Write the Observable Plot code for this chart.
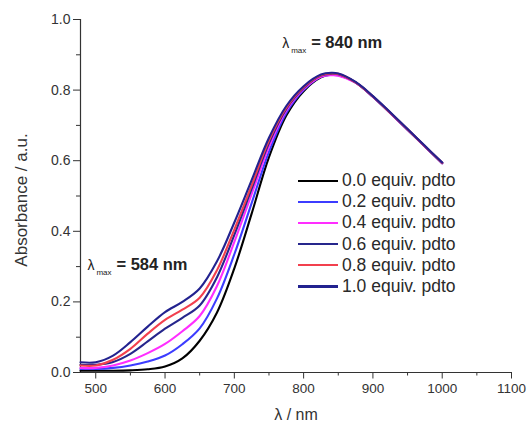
<!DOCTYPE html>
<html>
<head>
<meta charset="utf-8">
<script src="https://cdn.jsdelivr.net/npm/d3@7"></script>
<script src="https://cdn.jsdelivr.net/npm/@observablehq/plot@0.6"></script>
<style>
  html, body { margin: 0; padding: 0; background: #fff; }
  #wrap { position: relative; width: 527px; height: 425px; font-family: "Liberation Sans", Arial, sans-serif; }
  #legend { position: absolute; left: 298px; top: 170px; }
  .row { display: flex; align-items: center; height: 21.2px; font-size: 17.5px; color: #2a2a2a; }
  .sw { width: 40px; height: 2.2px; margin-right: 4px; }
  #ylab { position: absolute; left: 22px; top: 200px; transform: translate(-50%, -50%) rotate(-90deg); white-space: nowrap; font-size: 17px; color: #333; }
</style>
</head>
<body>
<div id="wrap"></div>
<script>
// wavelengths (nm)
const wavelengths = [478, 500, 525, 550, 575, 600, 625, 650, 675, 700, 725, 750, 775, 800, 825, 840, 850, 875, 900, 925, 950, 975, 1000];
// absorbance per titration step
const eq00 = [0.005,0.005,0.005,0.006,0.009,0.017,0.040,0.090,0.170,0.295,0.450,0.610,0.728,0.797,0.836,0.844,0.843,0.822,0.781,0.735,0.688,0.640,0.593];
const eq02 = [0.010,0.010,0.013,0.020,0.031,0.048,0.080,0.125,0.210,0.335,0.480,0.625,0.735,0.800,0.838,0.843,0.842,0.821,0.781,0.735,0.688,0.640,0.593];
const eq04 = [0.013,0.013,0.020,0.034,0.055,0.081,0.117,0.160,0.245,0.370,0.505,0.640,0.742,0.803,0.838,0.842,0.841,0.821,0.781,0.735,0.688,0.640,0.593];
const eq06 = [0.022,0.022,0.030,0.053,0.088,0.124,0.155,0.190,0.270,0.390,0.520,0.650,0.747,0.806,0.841,0.846,0.845,0.822,0.782,0.736,0.689,0.641,0.594];
const eq08 = [0.020,0.020,0.036,0.067,0.110,0.149,0.178,0.212,0.290,0.405,0.530,0.657,0.750,0.808,0.842,0.847,0.846,0.822,0.782,0.736,0.689,0.641,0.594];
const eq10 = [0.029,0.029,0.048,0.086,0.130,0.171,0.200,0.238,0.315,0.425,0.545,0.665,0.755,0.811,0.844,0.849,0.847,0.823,0.783,0.737,0.690,0.642,0.595];

const seriesNames = ["0.0 equiv. pdto","0.2 equiv. pdto","0.4 equiv. pdto","0.6 equiv. pdto","0.8 equiv. pdto","1.0 equiv. pdto"];
const seriesValues = [eq00, eq02, eq04, eq06, eq08, eq10];
const seriesColors = ["#000000","#3c3cff","#ff2eff","#26268c","#f2404e","#22228f"];

const xTicks = [500, 600, 700, 800, 900, 1000, 1100];
const xMinorTicks = [550, 650, 750, 850, 950, 1050];
const yTicks = [0, 0.2, 0.4, 0.6, 0.8, 1.0];
const yMinorTicks = [0.1, 0.3, 0.5, 0.7, 0.9];

// annotation anchors (wavelength, absorbance)
const annotations = [
  {x: 769, y: 0.918, value: "= 840 nm"},
  {x: 488, y: 0.289, value: "= 584 nm"}
];

const rows = [];
seriesNames.forEach((name, i) => {
  wavelengths.forEach((w, j) => rows.push({series: name, x: w, y: seriesValues[i][j]}));
});

const axisColor = "#333";
const chart = Plot.plot({
  width: 527,
  height: 425,
  marginLeft: 80,
  marginRight: 16,
  marginTop: 19,
  marginBottom: 53,
  style: {fontFamily: "Liberation Sans, Arial, sans-serif", fontSize: "14px", color: "#333", background: "#fff", overflow: "visible"},
  x: {domain: [478, 1100]},
  y: {domain: [0, 1.0]},
  color: {domain: seriesNames, range: seriesColors},
  marks: [
    Plot.axisX(xMinorTicks, {tickSize: 3.5, text: null, label: null, stroke: axisColor}),
    Plot.axisX(xTicks, {tickSize: 6.5, tickPadding: 4, tickFormat: d3.format("d"), label: null, stroke: axisColor, fill: "#333", fontSize: 13.5}),
    Plot.axisY(yMinorTicks, {tickSize: 4, text: null, label: null, stroke: axisColor}),
    Plot.axisY(yTicks, {tickSize: 7, tickPadding: 3, tickFormat: d3.format(".1f"), label: null, stroke: axisColor, fill: "#333", fontSize: 14}),
    Plot.ruleX([478], {y1: 0, y2: 1.0, stroke: axisColor, strokeWidth: 1.2}),
    Plot.ruleY([0], {x1: 478, x2: 1100, stroke: axisColor, strokeWidth: 1.2}),
    Plot.line(rows, {x: "x", y: "y", z: "series", stroke: "series", strokeWidth: 2.1, curve: "catmull-rom"}),
    Plot.text(annotations, {x: "x", y: "y", text: () => "λ", textAnchor: "start", lineAnchor: "bottom", fontSize: 14, fill: "#222"}),
    Plot.text(annotations, {x: "x", y: "y", text: () => "max", textAnchor: "start", lineAnchor: "bottom", dx: 9, dy: 5, fontSize: 8, fill: "#222"}),
    Plot.text(annotations, {x: "x", y: "y", text: "value", textAnchor: "start", lineAnchor: "bottom", dx: 29, fontSize: 16.5, fontWeight: "bold", fill: "#222"}),
    Plot.text(["λ / nm"], {frameAnchor: "bottom", text: d => d, dy: 47, fontSize: 16, fill: "#333"})
  ]
});

const wrap = document.getElementById("wrap");
wrap.appendChild(chart);

const ylab = document.createElement("div");
ylab.id = "ylab";
ylab.textContent = "Absorbance / a.u.";
wrap.appendChild(ylab);

const legend = document.createElement("div");
legend.id = "legend";
seriesNames.forEach((name, i) => {
  const r = document.createElement("div");
  r.className = "row";
  const sw = document.createElement("div");
  sw.className = "sw";
  sw.style.background = seriesColors[i];
  const t = document.createElement("span");
  t.textContent = name;
  r.appendChild(sw);
  r.appendChild(t);
  legend.appendChild(r);
});
wrap.appendChild(legend);
</script>
</body>
</html>
